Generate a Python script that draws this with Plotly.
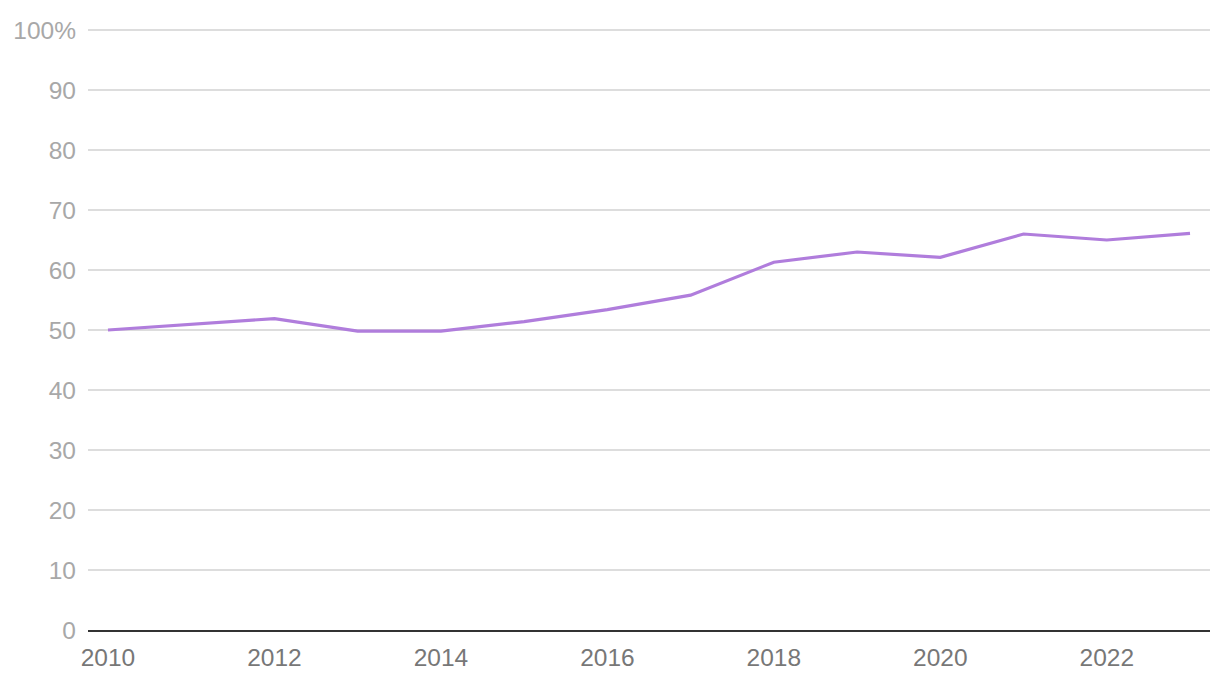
import plotly.graph_objects as go

years = [2010, 2011, 2012, 2013, 2014, 2015, 2016, 2017, 2018, 2019, 2020, 2021, 2022, 2023]
values = [50.0, 51.0, 51.9, 49.8, 49.8, 51.4, 53.4, 55.8, 61.3, 63.0, 62.1, 66.0, 65.0, 66.1]

y_tickvals = [0, 10, 20, 30, 40, 50, 60, 70, 80, 90, 100]
y_ticktext = ["0", "10", "20", "30", "40", "50", "60", "70", "80", "90", "100%"]
x_tickvals = [2010, 2012, 2014, 2016, 2018, 2020, 2022]
x_ticktext = ["2010", "2012", "2014", "2016", "2018", "2020", "2022"]

fig = go.Figure()
fig.add_trace(go.Scatter(
    x=years, y=values, mode="lines",
    line=dict(color="#B07DDC", width=3.2),
    hoverinfo="x+y", showlegend=False,
))

fig.update_layout(
    width=1212, height=680,
    margin=dict(l=80, r=10, t=16, b=58, autoexpand=False),
    paper_bgcolor="white", plot_bgcolor="white",
    font=dict(family="Liberation Sans, Arial, sans-serif"),
    xaxis=dict(
        range=[2009.76, 2023.24],
        tickvals=x_tickvals, ticktext=x_ticktext,
        tickfont=dict(size=24.5, color="#777777"),
        showgrid=False, zeroline=False,
        showline=True, linecolor="#333333", linewidth=2,
        ticks="", ticklabelstandoff=5, automargin=False,
    ),
    yaxis=dict(
        range=[0, 101],
        tickvals=y_tickvals, ticktext=y_ticktext,
        tickfont=dict(size=24.5, color="#A8A8A8"),
        showgrid=True, gridcolor="#DDDDDD", gridwidth=1.5,
        zeroline=False, showline=False,
        ticks="", ticklabelstandoff=11, automargin=False,
    ),
)

fig.write_html("out.html")
